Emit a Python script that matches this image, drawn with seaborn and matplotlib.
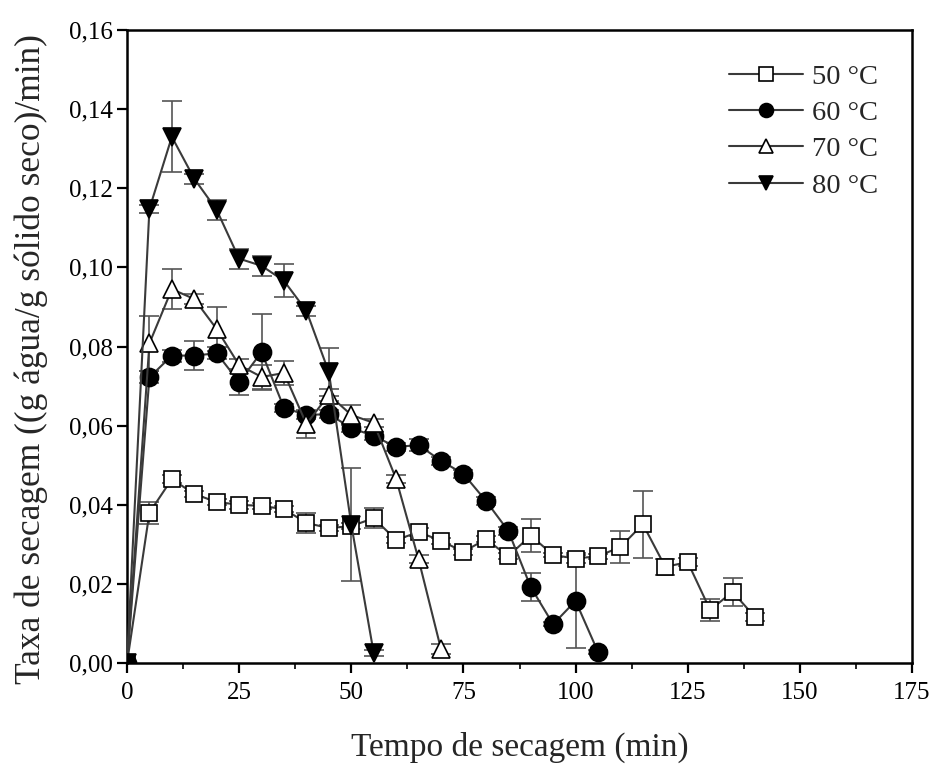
import numpy as np
import pandas as pd
import matplotlib
matplotlib.use('Agg')
import matplotlib.pyplot as plt
import seaborn as sns
from matplotlib.ticker import MultipleLocator, FuncFormatter

# drying time (min) per temperature
t50 = [0, 5, 10, 15, 20, 25, 30, 35, 40, 45, 50, 55, 60, 65, 70, 75, 80, 85, 90, 95,
       100, 105, 110, 115, 120, 125, 130, 135, 140]
r50 = [0.0, 0.038, 0.0465, 0.0427, 0.0407, 0.0400, 0.0397, 0.0389, 0.0354, 0.0341, 0.0346,
       0.0366, 0.0311, 0.0331, 0.0309, 0.0281, 0.0313, 0.0270, 0.0322, 0.0273, 0.0264,
       0.0270, 0.0293, 0.0351, 0.0243, 0.0255, 0.0134, 0.0180, 0.0116]
e50 = [0.0, 0.0028, 0.001, 0.0008, 0.0008, 0.0010, 0.0008, 0.0008, 0.0025, 0.0008, 0.0008,
       0.0025, 0.0008, 0.0010, 0.0008, 0.0008, 0.0008, 0.0008, 0.0042, 0.0006, 0.0010,
       0.0006, 0.0040, 0.0085, 0.0020, 0.0010, 0.0027, 0.0035, 0.0010]

t60 = [0, 5, 10, 15, 20, 25, 30, 35, 40, 45, 50, 55, 60, 65, 70, 75, 80, 85, 90, 95, 100, 105]
r60 = [0.0, 0.0722, 0.0777, 0.0777, 0.0783, 0.0710, 0.0786, 0.0645, 0.0627, 0.0629, 0.0594,
       0.0574, 0.0546, 0.0551, 0.0511, 0.0478, 0.0410, 0.0334, 0.0192, 0.0098, 0.0157, 0.0028]
e60 = [0.0, 0.0015, 0.0015, 0.0037, 0.0015, 0.0033, 0.0095, 0.0010, 0.0010, 0.0010, 0.0010,
       0.0010, 0.0010, 0.0015, 0.0010, 0.0010, 0.0010, 0.0010, 0.0035, 0.0005, 0.0120, 0.0005]

t70 = [0, 5, 10, 15, 20, 25, 30, 35, 40, 45, 50, 55, 60, 65, 70]
r70 = [0.0, 0.0808, 0.0945, 0.0920, 0.0844, 0.0753, 0.0723, 0.0733, 0.0604, 0.0678, 0.0627,
       0.0607, 0.0465, 0.0262, 0.0035]
e70 = [0.0, 0.0070, 0.0050, 0.0012, 0.0055, 0.0015, 0.0030, 0.0030, 0.0035, 0.0015, 0.0025,
       0.0010, 0.0010, 0.0010, 0.0012]

t80 = [0, 5, 10, 15, 20, 25, 30, 35, 40, 45, 50, 55]
r80 = [0.0, 0.1148, 0.1330, 0.1224, 0.1145, 0.1022, 0.1004, 0.0966, 0.0890, 0.0735, 0.0350, 0.0025]
e80 = [0.0, 0.0010, 0.0090, 0.0012, 0.0025, 0.0025, 0.0025, 0.0042, 0.0012, 0.0060, 0.0143, 0.0008]

labels = ['50 °C', '60 °C', '70 °C', '80 °C']

sns.set_style('ticks')
plt.rcParams['font.family'] = ['Liberation Serif', 'DejaVu Serif']

fig = plt.figure(figsize=(9.35, 7.65), dpi=100)
ax = fig.add_axes([127 / 935, 1 - 663 / 765, 785 / 935, 633 / 765])

series = [
    (t50, r50, e50, 's', 'white', 11),
    (t60, r60, e60, 'o', 'black', 13),
    (t70, r70, e70, '^', 'white', 13.5),
    (t80, r80, e80, 'v', 'black', 13.5),
]

line_col = '#3a3a3a'
for (t, r, e, mk, fc, ms), lab in zip(series, labels):
    df = pd.DataFrame({'t': t, 'r': r})
    ax.errorbar(t, r, yerr=e, fmt='none', ecolor='#555555', elinewidth=1.2,
                capsize=7, capthick=1.2, zorder=2)
    sns.lineplot(data=df, x='t', y='r', ax=ax, color=line_col, linewidth=1.5,
                 marker=mk, markersize=ms, markerfacecolor=fc, markeredgecolor='black',
                 markeredgewidth=1.2, label=lab, zorder=3)

ax.set_xlim(0, 175)
ax.set_ylim(0, 0.16)
ax.xaxis.set_major_locator(MultipleLocator(25))
ax.xaxis.set_minor_locator(MultipleLocator(12.5))
ax.yaxis.set_major_locator(MultipleLocator(0.02))
ax.yaxis.set_major_formatter(FuncFormatter(lambda v, p: f'{v:.2f}'.replace('.', ',')))

for s in ax.spines.values():
    s.set_linewidth(1.8)
    s.set_color('black')
ax.tick_params(axis='both', which='major', direction='out', length=7, width=1.6,
               labelsize=18, colors='black')
ax.tick_params(axis='x', which='major', pad=7)
ax.tick_params(axis='x', which='minor', direction='out', length=4, width=1.4)

ax.set_xlabel('Tempo de secagem (min)', fontsize=24, labelpad=20)
ax.set_ylabel('Taxa de secagem ((g água/g sólido seco)/min)', fontsize=25.5, labelpad=12)
ax.yaxis.set_label_coords(-0.1, 0.48)

leg = ax.legend(loc='upper right', frameon=False, fontsize=20.5, handlelength=2.6,
                handletextpad=0.3, labelspacing=0.36, borderaxespad=0.8)
for h in leg.legend_handles:
    h.set_markersize(10)

fig.savefig('out.png', dpi=100)
